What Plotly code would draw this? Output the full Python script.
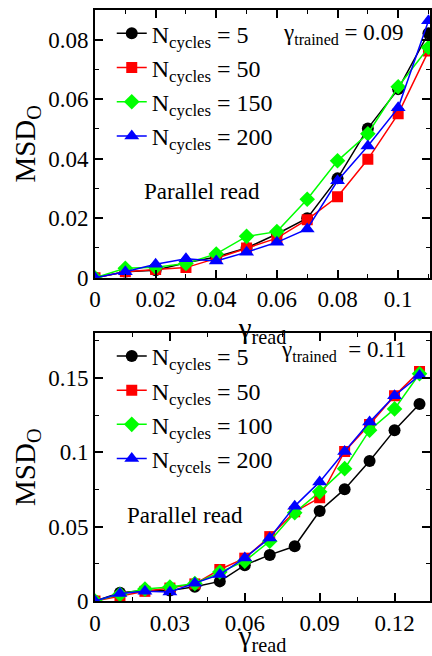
import plotly.graph_objects as go

# ---- data ----
x_top = [0.0, 0.01, 0.02, 0.03, 0.04, 0.05, 0.06, 0.07, 0.08, 0.09, 0.10, 0.11]
top_n5 = [0.0, 0.002, 0.0025, 0.005, 0.007, 0.010, 0.0147, 0.020, 0.0334, 0.0502, 0.0634, 0.0822]
top_n50 = [0.0, 0.002, 0.0028, 0.0034, 0.0065, 0.010, 0.0133, 0.0195, 0.0272, 0.0398, 0.0551, 0.0762]
top_n150 = [0.0, 0.0032, 0.0035, 0.0048, 0.008, 0.0139, 0.0155, 0.0264, 0.0393, 0.0484, 0.0642, 0.0774]
top_n200 = [0.0, 0.002, 0.0045, 0.0064, 0.0056, 0.0086, 0.0119, 0.0164, 0.0326, 0.0443, 0.0571, 0.0864]
top_names = ["N<sub>cycles</sub> = 5", "N<sub>cycles</sub> = 50",
             "N<sub>cycles</sub> = 150", "N<sub>cycles</sub> = 200"]

x_bot = [0.0, 0.01, 0.02, 0.03, 0.04, 0.05, 0.06, 0.07, 0.08, 0.09, 0.10, 0.11, 0.12, 0.13]
bot_n5 = [0.0, 0.0056, 0.0071, 0.007, 0.0096, 0.0132, 0.0241, 0.031, 0.0368, 0.0605, 0.0752, 0.0942, 0.1149, 0.1325]
bot_n50 = [0.0, 0.0031, 0.0065, 0.0087, 0.0115, 0.0212, 0.0288, 0.0433, 0.060, 0.0694, 0.1006, 0.1187, 0.1381, 0.1544]
bot_n100 = [0.0, 0.0045, 0.008, 0.0094, 0.0118, 0.0195, 0.0268, 0.0402, 0.0594, 0.0734, 0.089, 0.1149, 0.1292, 0.1528]
bot_n200 = [0.0, 0.005, 0.0065, 0.006, 0.012, 0.0178, 0.029, 0.0424, 0.0638, 0.0801, 0.1005, 0.1203, 0.138, 0.1517]
bot_names = ["N<sub>cycles</sub> = 5", "N<sub>cycles</sub> = 50",
             "N<sub>cycles</sub> = 100", "N<sub>cycels</sub> = 200"]

x_top_ticks = [0, 0.02, 0.04, 0.06, 0.08, 0.1]
x_top_labels = ["0", "0.02", "0.04", "0.06", "0.08", "0.1"]
y_top_ticks = [0, 0.02, 0.04, 0.06, 0.08]
y_top_labels = ["0", "0.02", "0.04", "0.06", "0.08"]
x_bot_ticks = [0, 0.03, 0.06, 0.09, 0.12]
x_bot_labels = ["0", "0.03", "0.06", "0.09", "0.12"]
y_bot_ticks = [0, 0.05, 0.1, 0.15]
y_bot_labels = ["0", "0.05", "0.1", "0.15"]

colors = ["#000000", "#ff0000", "#00ff00", "#0000ff"]
symbols = ["circle", "square", "diamond", "triangle-up"]
msizes = [12, 11, 12, 13]

FONT = "Liberation Serif"
FS = 23
LFS = 24

fig = go.Figure()

for ys, name, c, s, ms in zip([top_n5, top_n50, top_n150, top_n200], top_names, colors, symbols, msizes):
    fig.add_trace(go.Scatter(x=x_top, y=ys, name=name, mode="lines+markers",
                             line=dict(color=c, width=1.5),
                             marker=dict(color=c, symbol=s, size=ms),
                             xaxis="x", yaxis="y", legend="legend"))

for ys, name, c, s, ms in zip([bot_n5, bot_n50, bot_n100, bot_n200], bot_names, colors, symbols, msizes):
    fig.add_trace(go.Scatter(x=x_bot, y=ys, name=name, mode="lines+markers",
                             line=dict(color=c, width=1.5),
                             marker=dict(color=c, symbol=s, size=ms),
                             xaxis="x2", yaxis="y2", legend="legend2"))

axis_common = dict(showline=True, linecolor="black", linewidth=2, mirror="ticks",
                   ticks="inside", ticklen=8, tickwidth=1.5, tickcolor="black",
                   showgrid=False, zeroline=False,
                   tickfont=dict(family=FONT, size=FS, color="black"))
minor_common = dict(ticks="inside", ticklen=4, tickcolor="black", tickwidth=1.2)
title_font = dict(family=FONT, size=29, color="black")

fig.update_layout(
    width=432, height=656,
    margin=dict(l=95, r=0, t=10, b=52),
    paper_bgcolor="white", plot_bgcolor="white",
    font=dict(family=FONT, color="black"),
    xaxis=dict(domain=[0, 1], range=[0, 0.1105], anchor="y",
               tickvals=x_top_ticks, ticktext=x_top_labels,
               minor=dict(dtick=0.01, **minor_common),
               title=dict(text="γ<sub>read</sub>", font=title_font, standoff=0),
               **axis_common),
    yaxis=dict(domain=[0.547, 1.0], range=[0, 0.09], anchor="x",
               tickvals=y_top_ticks, ticktext=y_top_labels,
               minor=dict(dtick=0.01, **minor_common),
               title=dict(text="MSD<sub>O</sub>", font=title_font, standoff=4),
               **axis_common),
    xaxis2=dict(domain=[0, 1], range=[0, 0.1342], anchor="y2",
                tickvals=x_bot_ticks, ticktext=x_bot_labels,
                minor=dict(dtick=0.015, **minor_common),
                title=dict(text="γ<sub>read</sub>", font=title_font, standoff=0),
                **axis_common),
    yaxis2=dict(domain=[0, 0.4529], range=[0, 0.18], anchor="x2",
                tickvals=y_bot_ticks, ticktext=y_bot_labels,
                minor=dict(dtick=0.025, **minor_common),
                title=dict(text="MSD<sub>O</sub>", font=title_font, standoff=4),
                **axis_common),
    legend=dict(x=0.05, y=0.998, xanchor="left", yanchor="top", bgcolor="rgba(0,0,0,0)",
                font=dict(family=FONT, size=LFS), tracegroupgap=0, itemwidth=30),
    legend2=dict(x=0.05, y=0.452, xanchor="left", yanchor="top", bgcolor="rgba(0,0,0,0)",
                 font=dict(family=FONT, size=LFS), tracegroupgap=0, itemwidth=30),
    showlegend=True,
)

fig.add_annotation(x=0.11, y=0.09, xref="x", yref="y", xanchor="right", yanchor="top",
                   text="γ<sub>trained</sub> = 0.09", showarrow=False,
                   font=dict(family=FONT, size=FS), xshift=-22, yshift=-8)
fig.add_annotation(x=0.0155, y=0.029, xref="x", yref="y", xanchor="left", yanchor="middle",
                   text="Parallel read", showarrow=False, font=dict(family=FONT, size=FS))
fig.add_annotation(x=0.13, y=0.18, xref="x2", yref="y2", xanchor="right", yanchor="top",
                   text="γ<sub>trained</sub>  = 0.11", showarrow=False,
                   font=dict(family=FONT, size=FS), xshift=-12, yshift=-2)
fig.add_annotation(x=0.012, y=0.0575, xref="x2", yref="y2", xanchor="left", yanchor="middle",
                   text="Parallel read", showarrow=False, font=dict(family=FONT, size=FS))

fig.write_html("out.html")
